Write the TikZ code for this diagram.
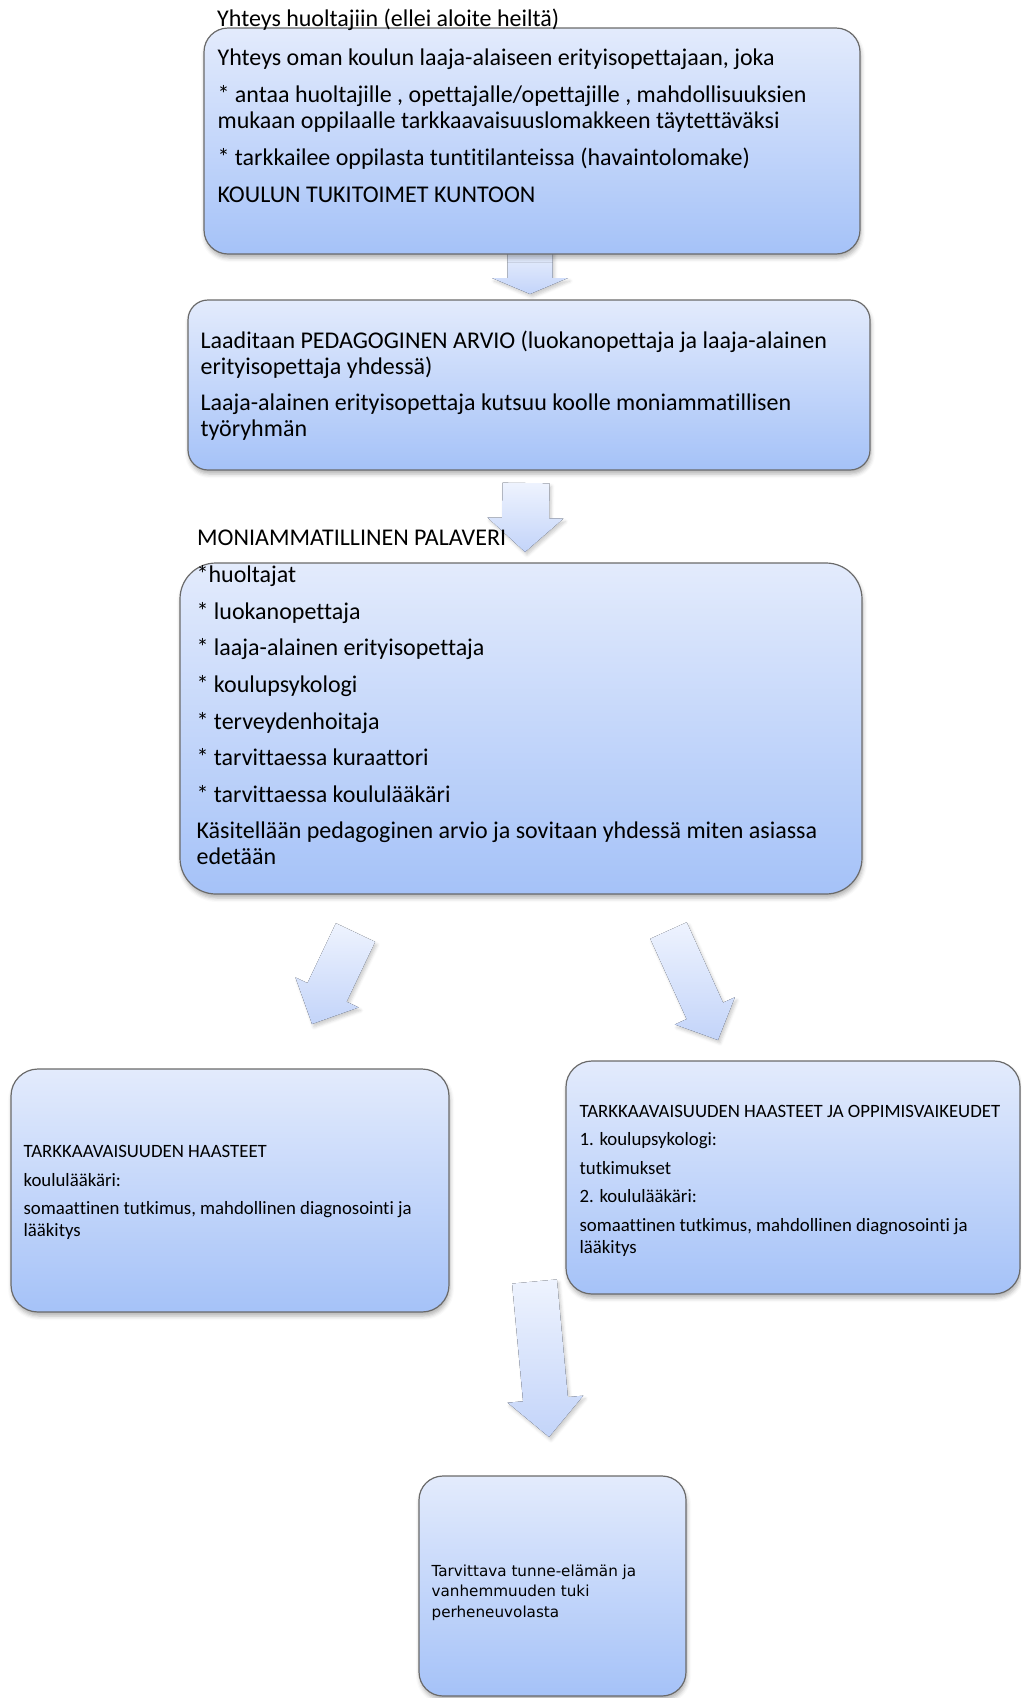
\documentclass[tikz,border=0pt]{standalone}
\usepackage{fontspec}
\setmainfont[Ligatures=NoCommon]{Carlito}
\newfontfamily\verdana{DejaVu Sans}
\usetikzlibrary{calc,shadows.blur}
\definecolor{boxtop}{HTML}{E3EBFC}
\definecolor{boxbot}{HTML}{A5C2F8}
\definecolor{arrtop}{HTML}{EEF3FE}
\definecolor{arrbot}{HTML}{C3D4F9}
\definecolor{edge}{HTML}{6A6A6A}
\tikzset{
  soft/.style={blur shadow={shadow xshift=1pt, shadow yshift=-4pt, shadow blur radius=4pt, shadow opacity=30}},
  box/.style={draw=edge, line width=1.2pt, top color=boxtop, bottom color=boxbot, soft, inner sep=0pt},
  arrowbody/.style={top color=arrtop, bottom color=arrbot,
    blur shadow={shadow xshift=2pt, shadow yshift=-3pt, shadow blur radius=3pt, shadow opacity=20},
    preaction={fill=arrtop!50!arrbot}},
  lab/.style={font=\fontsize{24}{26}\selectfont, align=left, inner sep=0pt},
  labs/.style={font=\fontsize{18.8}{21.6}\selectfont, align=left, inner sep=0pt},
  labv/.style={font=\verdana\fontsize{15.2}{20.6}\selectfont, align=left, inner sep=0pt},
}
% block arrow: start, tip, half shaft, half head, head length
\newcommand{\blockarrow}[5]{%
  \fill[arrowbody] ($(#1)!#3!90:(#2)$) -- ($(#2)!#5!(#1)!#3!90:(#2)$)
    -- ($(#2)!#5!(#1)!#4!90:(#2)$) -- (#2) -- ($(#2)!#5!(#1)!#4!-90:(#2)$)
    -- ($(#2)!#5!(#1)!#3!-90:(#2)$) -- ($(#1)!#3!-90:(#2)$) -- cycle;
}

\begin{document}
\begin{tikzpicture}[x=1pt,y=1pt]
  \useasboundingbox (0,0) rectangle (1021,-1698);
  \clip (0,0) rectangle (1021,-1698);

  % arrows
  \coordinate (aA0) at (530,-245);    \coordinate (aA1) at (530,-294);
  \coordinate (aB0) at (526,-483);    \coordinate (aB1) at (525,-552);
  \coordinate (aC0) at (355.5,-932.5); \coordinate (aC1) at (312,-1024);
  \coordinate (aD0) at (668.5,-930.5); \coordinate (aD1) at (718,-1040);
  \coordinate (aE0) at (534.5,-1281.5); \coordinate (aE1) at (549,-1437);
  \blockarrow{aA0}{aA1}{22.5pt}{38pt}{16pt}
  \blockarrow{aB0}{aB1}{23.5pt}{38pt}{34pt}
  \blockarrow{aC0}{aC1}{21.7pt}{35pt}{35pt}
  \blockarrow{aD0}{aD1}{20pt}{33pt}{32pt}
  \blockarrow{aE0}{aE1}{22.5pt}{38pt}{38pt}

  % boxes
  \node[box, rounded corners=24pt, minimum width=656, minimum height=226] (b1) at (532,-141) {};
  \node[box, rounded corners=20pt, minimum width=682, minimum height=170] (b2) at (529,-385) {};
  \node[box, rounded corners=36pt, minimum width=682, minimum height=331] (b3) at (521,-728.5) {};
  \node[box, rounded corners=27pt, minimum width=438, minimum height=243] (b4) at (230,-1190.5) {};
  \node[box, rounded corners=26pt, minimum width=454, minimum height=233] (b5) at (793,-1177.5) {};
  \node[box, rounded corners=24pt, minimum width=267, minimum height=220] (b6) at (552.5,-1586) {};

  % texts
  \node[lab, anchor=base west] (t0) at (217,-26) {Yhteys huoltajiin (ellei aloite heiltä)};
  \node[lab, anchor=north west] (t1) at ([xshift=14pt,yshift=-21pt]b1.north west)
    {Yhteys oman koulun laaja-alaiseen erityisopettajaan, joka\\[11pt]
     * antaa huoltajille , opettajalle/opettajille , mahdollisuuksien\\
     mukaan oppilaalle tarkkaavaisuuslomakkeen täytettäväksi\\[11pt]
     * tarkkailee oppilasta tuntitilanteissa (havaintolomake)\\[11pt]
     KOULUN TUKITOIMET KUNTOON};
  \node[lab, anchor=west] (t2) at ([xshift=13pt,yshift=-1pt]b2.west)
    {Laaditaan PEDAGOGINEN ARVIO (luokanopettaja ja laaja-alainen\\
     erityisopettaja yhdessä)\\[10pt]
     Laaja-alainen erityisopettaja kutsuu koolle moniammatillisen\\
     työryhmän};
  \node[lab, anchor=base west] (t3h) at (197,-545) {MONIAMMATILLINEN PALAVERI};
  \node[lab, anchor=north west] (t3) at ([xshift=17pt,yshift=-3pt]b3.north west)
    {*huoltajat\\[10.6pt]
     * luokanopettaja\\[10.6pt]
     * laaja-alainen erityisopettaja\\[10.6pt]
     * koulupsykologi\\[10.6pt]
     * terveydenhoitaja\\[10.6pt]
     * tarvittaessa kuraattori\\[10.6pt]
     * tarvittaessa koululääkäri\\[10.6pt]
     Käsitellään pedagoginen arvio ja sovitaan yhdessä miten asiassa\\
     edetään};
  \node[labs, anchor=west] (t4) at ([xshift=13pt,yshift=-2pt]b4.west)
    {TARKKAAVAISUUDEN HAASTEET\\[7pt]
     koululääkäri:\\[7pt]
     somaattinen tutkimus, mahdollinen diagnosointi ja\\
     lääkitys};
  \node[labs, anchor=west] (t5) at ([xshift=14pt,yshift=-3pt]b5.west)
    {TARKKAAVAISUUDEN HAASTEET JA OPPIMISVAIKEUDET\\[7pt]
     1. koulupsykologi:\\[7pt]
     tutkimukset\\[7pt]
     2. koululääkäri:\\[7pt]
     somaattinen tutkimus, mahdollinen diagnosointi ja\\
     lääkitys};
  \node[labv, anchor=west] (t6) at ([xshift=13pt,yshift=-6.5pt]b6.west)
    {Tarvittava tunne-elämän ja\\
     vanhemmuuden tuki\\
     perheneuvolasta};
\end{tikzpicture}
\end{document}
